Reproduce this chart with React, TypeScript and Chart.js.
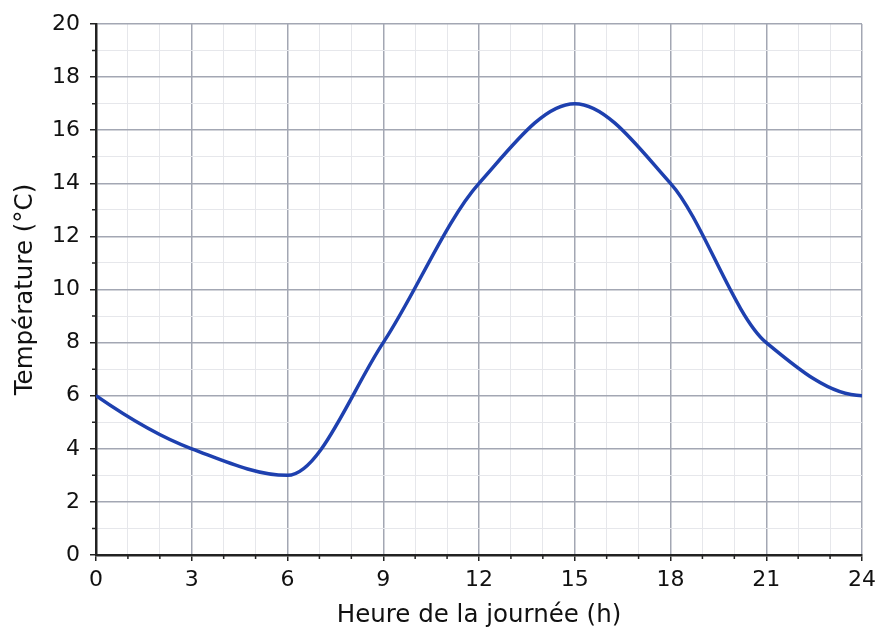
import { useEffect, useRef } from "react";
import { Chart, registerables } from "chart.js";

Chart.register(...registerables);

const hours = [0, 3, 6, 9, 12, 15, 18, 21, 24];
const temperatures = [6, 4, 3, 8, 14, 17, 14, 8, 6];

const xMin = 0;
const xMax = 24;
const xLabelStep = 3;
const yMin = 0;
const yMax = 20;
const yLabelStep = 2;

const FONT = "'DejaVu Sans', sans-serif";
const MAJOR_GRID = "#a3a7b3";
const MINOR_GRID = "#e6e7eb";
const AXIS = "#222222";

const isMajor = (v: number, step: number) => Math.abs(v % step) < 1e-6;

// PCHIP slopes (shape preserving, one-sided ends), in data units
function pchipSlopes(x: number[], y: number[]) {
   const n = x.length;
   const h: number[] = [];
   const del: number[] = [];
   for (let i = 0; i < n - 1; i++) {
      h.push(x[i + 1] - x[i]);
      del.push((y[i + 1] - y[i]) / h[i]);
   }
   const d = new Array(n).fill(0);
   for (let k = 1; k < n - 1; k++) {
      if (del[k - 1] * del[k] <= 0) continue;
      const w1 = 2 * h[k] + h[k - 1];
      const w2 = h[k] + 2 * h[k - 1];
      d[k] = (w1 + w2) / (w1 / del[k - 1] + w2 / del[k]);
   }
   const edge = (h0: number, h1: number, m0: number, m1: number) => {
      let s = ((2 * h0 + h1) * m0 - h0 * m1) / (h0 + h1);
      if (Math.sign(s) !== Math.sign(m0)) s = 0;
      else if (Math.sign(m0) !== Math.sign(m1) && Math.abs(s) > Math.abs(3 * m0)) s = 3 * m0;
      return s;
   };
   d[0] = edge(h[0], h[1], del[0], del[1]);
   d[n - 1] = edge(h[n - 2], h[n - 3], del[n - 2], del[n - 3]);
   return d;
}

const pchipCurve = {
   id: "pchipCurve",
   beforeDatasetDraw(chart: Chart, args: any) {
      const meta = args.meta;
      const xs = chart.scales.x;
      const ys = chart.scales.y;
      const d = pchipSlopes(hours, temperatures);
      const pts = meta.data as any[];
      for (let i = 0; i < pts.length; i++) {
         if (i > 0) {
            const h = hours[i] - hours[i - 1];
            pts[i].cp1x = xs.getPixelForValue(hours[i] - h / 3);
            pts[i].cp1y = ys.getPixelForValue(temperatures[i] - (d[i] * h) / 3);
         }
         if (i < pts.length - 1) {
            const h = hours[i + 1] - hours[i];
            pts[i].cp2x = xs.getPixelForValue(hours[i] + h / 3);
            pts[i].cp2y = ys.getPixelForValue(temperatures[i] + (d[i] * h) / 3);
         }
      }
      meta.dataset._pointsUpdated = true;
   },
};

// minor tick marks are shorter than the major ones
const minorTicks = {
   id: "minorTicks",
   afterDraw(chart: Chart) {
      const ctx = chart.ctx;
      const x = chart.scales.x;
      const y = chart.scales.y;
      ctx.save();
      ctx.strokeStyle = AXIS;
      ctx.lineWidth = 1.5;
      ctx.beginPath();
      for (let v = xMin; v <= xMax; v++) {
         if (isMajor(v, xLabelStep)) continue;
         const px = x.getPixelForValue(v);
         ctx.moveTo(px, chart.chartArea.bottom);
         ctx.lineTo(px, chart.chartArea.bottom + 4);
      }
      for (let v = yMin; v <= yMax; v++) {
         if (isMajor(v, yLabelStep)) continue;
         const py = y.getPixelForValue(v);
         ctx.moveTo(chart.chartArea.left, py);
         ctx.lineTo(chart.chartArea.left - 4, py);
      }
      ctx.stroke();
      ctx.restore();
   },
};

const App = () => {
   const canvasRef = useRef<HTMLCanvasElement>(null);

   useEffect(() => {
      document.body.style.margin = "0";
      if (!canvasRef.current) return;

      const chart = new Chart(canvasRef.current, {
         type: "line",
         data: {
            datasets: [
               {
                  data: hours.map((h, i) => ({ x: h, y: temperatures[i] })),
                  borderColor: "#1e40af",
                  borderWidth: 3.5,
                  pointRadius: 0,
                  cubicInterpolationMode: "monotone",
                  fill: false,
               },
            ],
         },
         options: {
            responsive: false,
            animation: false,
            layout: { padding: { top: 24, right: 32, left: 0, bottom: 0 } },
            plugins: {
               legend: { display: false },
               tooltip: { enabled: false },
            },
            scales: {
               x: {
                  type: "linear",
                  min: xMin,
                  max: xMax,
                  afterFit: (scale: any) => {
                     scale.height = 89;
                  },
                  border: { display: true, color: AXIS, width: 2.5 },
                  grid: {
                     color: (c: any) => (isMajor(c.tick.value, xLabelStep) ? MAJOR_GRID : MINOR_GRID),
                     lineWidth: (c: any) => (isMajor(c.tick.value, xLabelStep) ? 1.5 : 1),
                     tickColor: (c: any) => (isMajor(c.tick.value, xLabelStep) ? AXIS : "rgba(0,0,0,0)"),
                     tickWidth: 1.5,
                     tickLength: 6,
                  },
                  ticks: {
                     stepSize: 1,
                     autoSkip: false,
                     maxRotation: 0,
                     padding: 6,
                     color: "#111",
                     font: { family: FONT, size: 22 },
                     callback: (v: any) => (isMajor(Number(v), xLabelStep) ? String(v) : ""),
                  },
                  title: {
                     display: true,
                     text: "Heure de la journée (h)",
                     color: "#111",
                     font: { family: FONT, size: 24.5 },
                     padding: { top: 4, bottom: 14 },
                  },
               },
               y: {
                  type: "linear",
                  min: yMin,
                  max: yMax,
                  afterFit: (scale: any) => {
                     scale.width = 96;
                  },
                  border: { display: true, color: AXIS, width: 2.5 },
                  grid: {
                     color: (c: any) => (isMajor(c.tick.value, yLabelStep) ? MAJOR_GRID : MINOR_GRID),
                     lineWidth: (c: any) => (isMajor(c.tick.value, yLabelStep) ? 1.5 : 1),
                     tickColor: (c: any) => (isMajor(c.tick.value, yLabelStep) ? AXIS : "rgba(0,0,0,0)"),
                     tickWidth: 1.5,
                     tickLength: 6,
                  },
                  ticks: {
                     stepSize: 1,
                     autoSkip: false,
                     padding: 10,
                     color: "#111",
                     font: { family: FONT, size: 22 },
                     callback: (v: any) => (isMajor(Number(v), yLabelStep) ? String(v) : ""),
                  },
                  title: {
                     display: true,
                     text: "Température (°C)",
                     color: "#111",
                     font: { family: FONT, size: 24.5 },
                     padding: { top: 11, bottom: 0 },
                  },
               },
            },
         },
         plugins: [pchipCurve, minorTicks],
      });

      return () => {
         chart.destroy();
      };
   }, []);

   return <canvas ref={canvasRef} width={894} height={644} />;
};

export default App;
